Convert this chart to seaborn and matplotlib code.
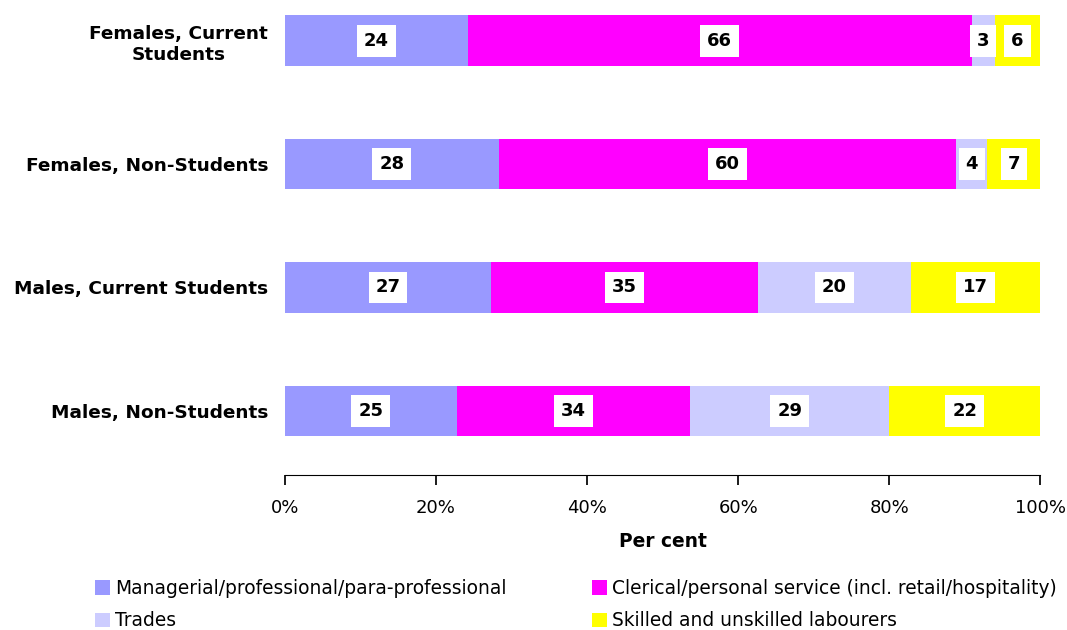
import matplotlib
matplotlib.use("Agg")
import matplotlib.pyplot as plt
from matplotlib.patches import Patch
import seaborn as sns
import pandas as pd
import numpy as np

groups = ["Females, Current\nStudents", "Females, Non-Students",
          "Males, Current Students", "Males, Non-Students"]
occupations = ["Managerial/professional/para-professional",
               "Clerical/personal service (incl. retail/hospitality)",
               "Trades", "Skilled and unskilled labourers"]
managerial = [24, 28, 27, 25]
clerical = [66, 60, 35, 34]
trades = [3, 4, 20, 29]
labourers = [6, 7, 17, 22]
colors = ["#9999FF", "#FF00FF", "#CCCCFF", "#FFFF00"]
xticks = [0, 20, 40, 60, 80, 100]

sns.set_theme(style="white")
plt.rcParams["font.family"] = ["DejaVu Sans"]
plt.rcParams["text.color"] = "black"
plt.rcParams["axes.labelcolor"] = "black"
plt.rcParams["xtick.color"] = "black"
plt.rcParams["ytick.color"] = "black"

df = pd.DataFrame({"group": groups, occupations[0]: managerial, occupations[1]: clerical,
                   occupations[2]: trades, occupations[3]: labourers}).set_index("group")
shares = df.div(df.sum(axis=1), axis=0) * 100
cum = shares.cumsum(axis=1)

fig = plt.figure(figsize=(10.67, 6.3), dpi=100)
ax = fig.add_axes([0.267, 0.246, 0.708, 0.754])

for occ, col in reversed(list(zip(occupations, colors))):
    sns.barplot(x=cum[occ].values, y=list(cum.index), color=col, orient="h",
                width=0.41, ax=ax, saturation=1, linewidth=0)

for i, g in enumerate(cum.index):
    start = 0
    for occ in occupations:
        end = cum.loc[g, occ]
        ax.text((start + end) / 2, i, f"{df.loc[g, occ]}", ha="center", va="center",
                fontsize=13, fontweight="bold", color="black",
                bbox=dict(facecolor="white", edgecolor="none", pad=5))
        start = end

ax.set_xlim(0, 100)
ax.set_ylim(3.52, -0.33)
ax.set_xticks(xticks)
ax.set_xticklabels([f"{t}%" for t in xticks], fontsize=13)
ax.set_xlabel("Per cent", fontsize=13.4, fontweight="bold", labelpad=11)
ax.set_ylabel("")
for lab in ax.get_yticklabels():
    lab.set_fontweight("bold")
    lab.set_fontsize(13.3)
    lab.set_multialignment("center")
ax.tick_params(axis="y", length=0, pad=12)
ax.tick_params(axis="x", bottom=True, length=7, direction="out", color="black", pad=10)
for s in ["top", "right", "left"]:
    ax.spines[s].set_visible(False)
ax.spines["bottom"].set_color("black")
ax.spines["bottom"].set_linewidth(0.8)

order = [0, 2, 1, 3]
handles = [Patch(facecolor=colors[k], edgecolor="none", label=occupations[k]) for k in order]
fig.legend(handles=handles, loc="upper left", bbox_to_anchor=(95 / 1067, 1 - 579 / 630), ncol=2,
           frameon=False, fontsize=13.4, handlelength=0.8, handleheight=0.8,
           handletextpad=0.27, columnspacing=4.6, labelspacing=0.72,
           borderpad=0, borderaxespad=0)

fig.savefig("out.png", dpi=100)
